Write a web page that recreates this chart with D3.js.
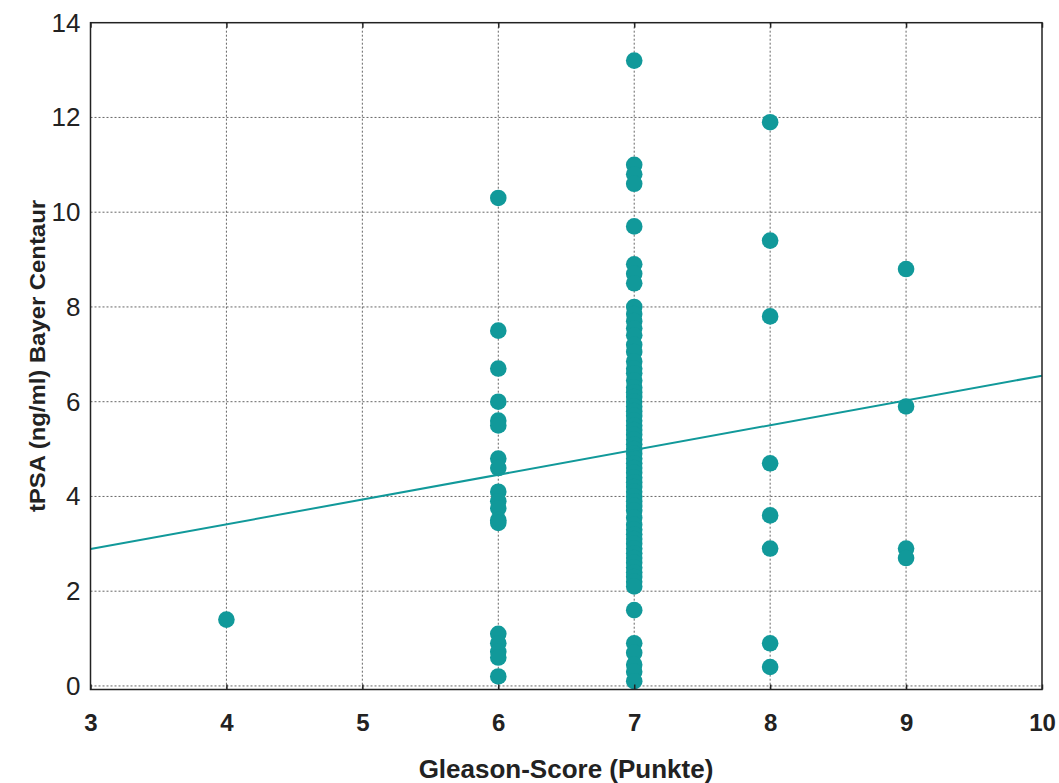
<!DOCTYPE html>
<html><head><meta charset="utf-8">
<script src="https://cdn.jsdelivr.net/npm/d3@7"></script>
<style>body{margin:0;background:#fff}svg{display:block}</style>
</head><body>
<script>
const xTicks = [3,4,5,6,7,8,9,10];
const yTicks = [0,2,4,6,8,10,12,14];
const score4 = [1.4];
const score6 = [10.3,7.5,6.7,6.0,5.6,5.5,4.8,4.6,4.1,3.9,3.75,3.5,3.44,1.1,0.9,0.72,0.6,0.2];
const score7 = [13.2,11.0,10.8,10.6,9.7,8.9,8.7,8.5,
  8.0,7.85,7.7,7.55,7.4,7.2,7.05,6.85,6.7,6.6,6.45,6.3,6.2,6.1,6.0,5.9,5.8,5.7,5.6,5.5,5.4,5.3,5.2,5.1,5.0,4.9,4.8,4.7,4.6,4.5,4.4,4.3,4.2,4.1,4.0,3.9,3.8,3.7,3.55,3.4,3.3,3.2,3.1,3.0,2.9,2.8,2.7,2.6,2.5,2.4,2.3,2.2,2.1,
  1.6,0.9,0.7,0.45,0.3,0.1];
const score8 = [11.9,9.4,7.8,4.7,3.6,2.9,0.9,0.4];
const score9 = [8.8,5.9,2.9,2.7];
const fitIntercept = 1.32, fitSlope = 0.523;

const W = 1059, H = 783;
const pL = 90.5, pR = 1042, pT = 22.7, pB = 689.5;
const color = "#11999a";
const svg = d3.select("body").append("svg").attr("width", W).attr("height", H);
const x = d3.scaleLinear().domain([3,10]).range([pL,pR]);
const y = d3.scaleLinear().domain([-0.075,14]).range([pB,pT]);

// gridlines
const g = svg.append("g");
g.selectAll(".vg").data(xTicks.filter(d=>d>3&&d<10)).join("line")
  .attr("x1",d=>x(d)).attr("x2",d=>x(d)).attr("y1",pT).attr("y2",pB)
  .attr("stroke","#666").attr("stroke-width",1).attr("stroke-dasharray","2,2");
g.selectAll(".hg").data(yTicks.filter(d=>d<14)).join("line")
  .attr("x1",pL).attr("x2",pR).attr("y1",d=>y(d)).attr("y2",d=>y(d))
  .attr("stroke","#666").attr("stroke-width",1).attr("stroke-dasharray","2,2");

// data
const pts = [];
[[4,score4],[6,score6],[7,score7],[8,score8],[9,score9]].forEach(([s,arr])=>arr.forEach(v=>pts.push({s,v})));
svg.append("g").selectAll("circle").data(pts).join("circle")
  .attr("cx",d=>x(d.s)).attr("cy",d=>y(d.v)).attr("r",8.3).attr("fill",color);

// regression line
svg.append("line")
  .attr("x1",x(3)).attr("y1",y(fitIntercept+fitSlope*3))
  .attr("x2",x(10)).attr("y2",y(fitIntercept+fitSlope*10))
  .attr("stroke",color).attr("stroke-width",2);

// frame
svg.append("rect").attr("x",pL).attr("y",pT).attr("width",pR-pL).attr("height",pB-pT)
  .attr("fill","none").attr("stroke","#222").attr("stroke-width",1.5);

// axes via d3
const xAxis = d3.axisBottom(x).tickValues(xTicks).tickSize(-5).tickPadding(24).tickFormat(d3.format("d"));
const xa = svg.append("g").attr("transform",`translate(0,${pB})`).call(xAxis);
xa.select(".domain").remove();
xa.selectAll(".tick line").attr("stroke","#222").attr("stroke-width",1.5);
xa.selectAll("text").attr("font-family","Liberation Sans, Arial, sans-serif").attr("font-size",24).attr("font-weight","bold").attr("fill","#222");

const xTop = svg.append("g").attr("transform",`translate(0,${pT})`).call(d3.axisTop(x).tickValues(xTicks).tickSize(-5).tickFormat(""));
xTop.select(".domain").remove();
xTop.selectAll(".tick line").attr("stroke","#222").attr("stroke-width",1.5);

const yAxis = d3.axisLeft(y).tickValues(yTicks).tickSize(0).tickPadding(10).tickFormat(d3.format("d"));
const ya = svg.append("g").attr("transform",`translate(${pL},0)`).call(yAxis);
ya.select(".domain").remove();
ya.selectAll("text").attr("font-family","Liberation Sans, Arial, sans-serif").attr("font-size",26).attr("fill","#222");

// titles
svg.append("text").attr("x",566).attr("y",778).attr("text-anchor","middle")
  .attr("font-family","Liberation Sans, Arial, sans-serif").attr("font-size",26).attr("font-weight","bold").attr("fill","#222")
  .text("Gleason-Score (Punkte)");
svg.append("text").attr("transform","translate(45,356) rotate(-90)").attr("text-anchor","middle")
  .attr("font-family","Liberation Sans Narrow, Liberation Sans, Arial, sans-serif").attr("font-size",22).attr("font-weight","bold").attr("fill","#222")
  .attr("textLength",312).attr("lengthAdjust","spacingAndGlyphs")
  .text("tPSA (ng/ml) Bayer Centaur");
</script>
</body></html>
